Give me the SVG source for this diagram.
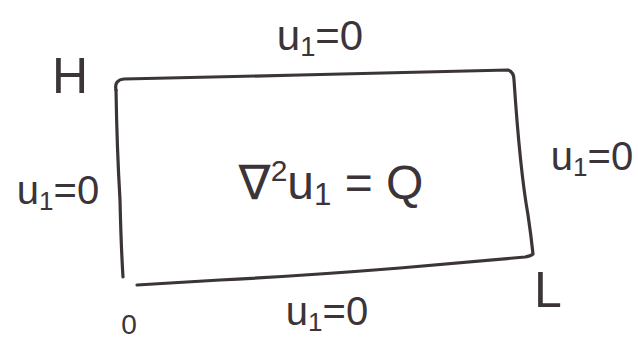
<svg xmlns="http://www.w3.org/2000/svg" width="638" height="339" viewBox="0 0 638 339">
<style>
.ln{fill:none;stroke:#3b3438;stroke-width:3.2;stroke-linecap:round;stroke-linejoin:round}
.t{font-family:"Liberation Sans","DejaVu Sans",sans-serif;fill:#3b3438;text-anchor:middle}
.sub{font-size:65%}
</style>
<rect width="638" height="339" fill="#ffffff"/>
<g id="boundary">
<path class="ln" d="M116,90 Q114,80 124,79 L300,75 L508,70 Q514,72 514,80 Q520,170 528,215 Q531,235 533,254 Q531,256 525,257 L400,268 Q300,276 220,280 L137,285"/>
<path class="ln" d="M116,90 Q117,150 120,200 Q121,245 123,277"/>
</g>
<g id="labels">
<text class="t" x="320" y="50" font-size="42">u<tspan class="sub" dy="6">1</tspan><tspan dy="-6">=0</tspan></text>
<text class="t" x="58" y="204" font-size="40">u<tspan class="sub" dy="6">1</tspan><tspan dy="-6">=0</tspan></text>
<text class="t" x="592" y="170" font-size="40">u<tspan class="sub" dy="6">1</tspan><tspan dy="-6">=0</tspan></text>
<text class="t" x="327" y="325" font-size="40">u<tspan class="sub" dy="6">1</tspan><tspan dy="-6">=0</tspan></text>
<text class="t" x="331" y="199" font-size="48">∇<tspan font-size="30" dy="-18">2</tspan><tspan dy="18">u</tspan><tspan class="sub" dy="6">1</tspan><tspan dy="-6"> = Q</tspan></text>
<text class="t" x="70" y="93" font-size="50">H</text>
<text class="t" x="548" y="307" font-size="50">L</text>
<text class="t" x="129" y="334" font-size="28">0</text>
</g>
</svg>
